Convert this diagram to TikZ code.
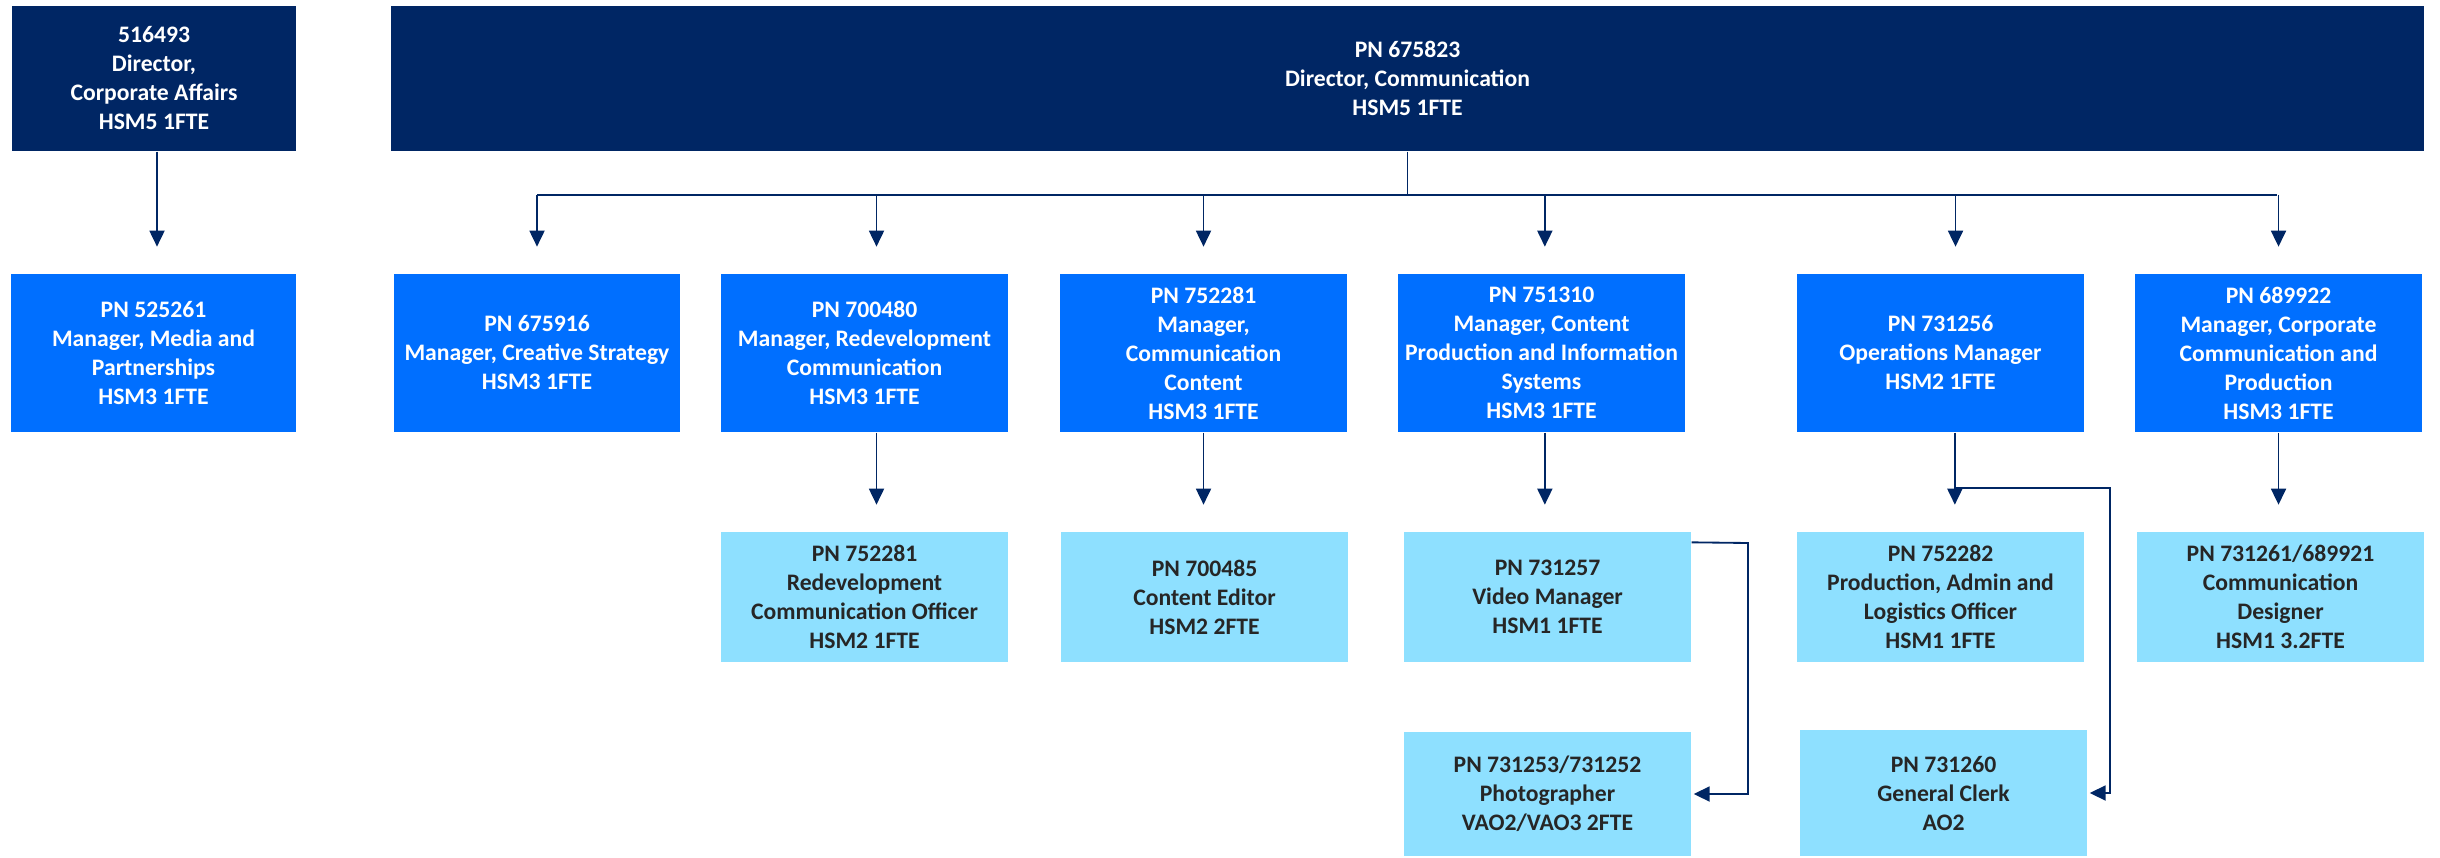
\documentclass[tikz,border=0pt]{standalone}
\usepackage{fontspec}
\setmainfont{Carlito}
\usetikzlibrary{arrows.meta}
\definecolor{navy}{RGB}{0,38,100}
\definecolor{midblue}{RGB}{0,111,255}
\definecolor{lightblue}{RGB}{142,224,255}
\definecolor{darktext}{RGB}{38,38,38}
\newcommand{\obox}[7]{\node[#2, minimum width={(#5-#3)*0.3pt}, minimum height={(#6-#4)*0.3pt}] (#1) at ({(#3+#5)/2},{(#4+#6)/2}) {#7};}
\begin{document}
\begin{tikzpicture}[x=0.3pt,y=-0.3pt,
  basebox/.style={rectangle, inner sep=0pt, align=center, font=\fontsize{7.1pt}{8.7pt}\selectfont\bfseries},
  topbox/.style={basebox, fill=navy, text=white},
  midbox/.style={basebox, fill=midblue, text=white},
  lowbox/.style={basebox, fill=lightblue, text=darktext},
  line/.style={draw=navy, line width=0.55pt},
  arr/.style={line, -{Triangle[width=4.5pt,length=4.8pt]}},
  gaparr/.style={arr, shorten >=8pt}]
\useasboundingbox (0,0) rectangle (2440,858);
\obox{d1}{topbox}{12}{6}{296}{151}{516493\\Director,\\Corporate Affairs\\HSM5 1FTE}
\obox{big}{topbox}{391}{6}{2424}{151}{PN 675823\\Director, Communication\\HSM5 1FTE}
\obox{m1}{midbox}{11}{274}{296}{432}{PN 525261\\Manager, Media and\\Partnerships\\HSM3 1FTE}
\obox{m2}{midbox}{394}{274}{680}{432}{PN 675916\\Manager, Creative Strategy\\HSM3 1FTE}
\obox{m3}{midbox}{721}{274}{1008}{432}{PN 700480\\Manager, Redevelopment\\Communication\\HSM3 1FTE}
\obox{m4}{midbox}{1060}{274}{1347}{432}{PN 752281\\Manager,\\Communication\\Content\\HSM3 1FTE}
\obox{m5}{midbox}{1398}{274}{1685}{432}{PN 751310\\Manager, Content\\Production and Information\\Systems\\HSM3 1FTE}
\obox{m6}{midbox}{1797}{274}{2084}{432}{PN 731256\\Operations Manager\\HSM2 1FTE}
\obox{m7}{midbox}{2135}{274}{2422}{432}{PN 689922\\Manager, Corporate\\Communication and\\Production\\HSM3 1FTE}
\obox{s3}{lowbox}{721}{532}{1008}{662}{PN 752281\\Redevelopment\\Communication Officer\\HSM2 1FTE}
\obox{s4}{lowbox}{1061}{532}{1348}{662}{PN 700485\\Content Editor\\HSM2 2FTE}
\obox{s5}{lowbox}{1404}{532}{1691}{662}{PN 731257\\Video Manager\\HSM1 1FTE}
\obox{s6}{lowbox}{1797}{532}{2084}{662}{PN 752282\\Production, Admin and\\Logistics Officer\\HSM1 1FTE}
\obox{s7}{lowbox}{2137}{532}{2424}{662}{PN 731261/689921\\Communication\\Designer\\HSM1 3.2FTE}
\obox{t5}{lowbox}{1404}{732}{1691}{856}{PN 731253/731252\\Photographer\\VAO2/VAO3 2FTE}
\obox{t6}{lowbox}{1800}{730}{2087}{856}{PN 731260\\General Clerk\\AO2}
% connectors
\coordinate (busL) at (537,195);
\coordinate (busR) at (2277,195);
\draw[line] (big.south) -- (big.south |- busL);
\draw[line] (busL) -- (busR);
\draw[gaparr] ([xshift=0.9pt]d1.south) -- ([xshift=0.9pt]d1.south |- m1.north);
\draw[gaparr] (m2.north |- busL) -- (m2.north);
\draw[gaparr] ([xshift=3.6pt]m3.north |- busL) -- ([xshift=3.6pt]m3.north);
\draw[gaparr] (m4.north |- busL) -- (m4.north);
\draw[gaparr] ([xshift=1pt]m5.north |- busL) -- ([xshift=1pt]m5.north);
\draw[gaparr] ([xshift=4.5pt]m6.north |- busL) -- ([xshift=4.5pt]m6.north);
\draw[gaparr] (m7.north |- busL) -- (m7.north);
\draw[gaparr] ([xshift=3.6pt]m3.south) -- ([xshift=3.6pt]m3.south |- s3.north);
\draw[gaparr] (m4.south) -- (m4.south |- s4.north);
\draw[gaparr] ([xshift=1pt]m5.south) -- ([xshift=1pt]m5.south |- s5.north);
\draw[gaparr] ([xshift=4.3pt]m6.south) -- ([xshift=4.3pt]m6.south |- s6.north);
\draw[gaparr] (m7.south) -- (m7.south |- s7.north);
\coordinate (vidR) at (1748,543);
\draw[arr, shorten >=0.6pt] ([yshift=-3.3pt]s5.north east) -- (vidR) |- (t5.east);
\coordinate (opsB) at (1954,488);
\coordinate (opsR) at (2110,488);
\draw[arr, shorten >=0.6pt] (opsB) -- (opsR) |- (t6.east);
\end{tikzpicture}
\end{document}
